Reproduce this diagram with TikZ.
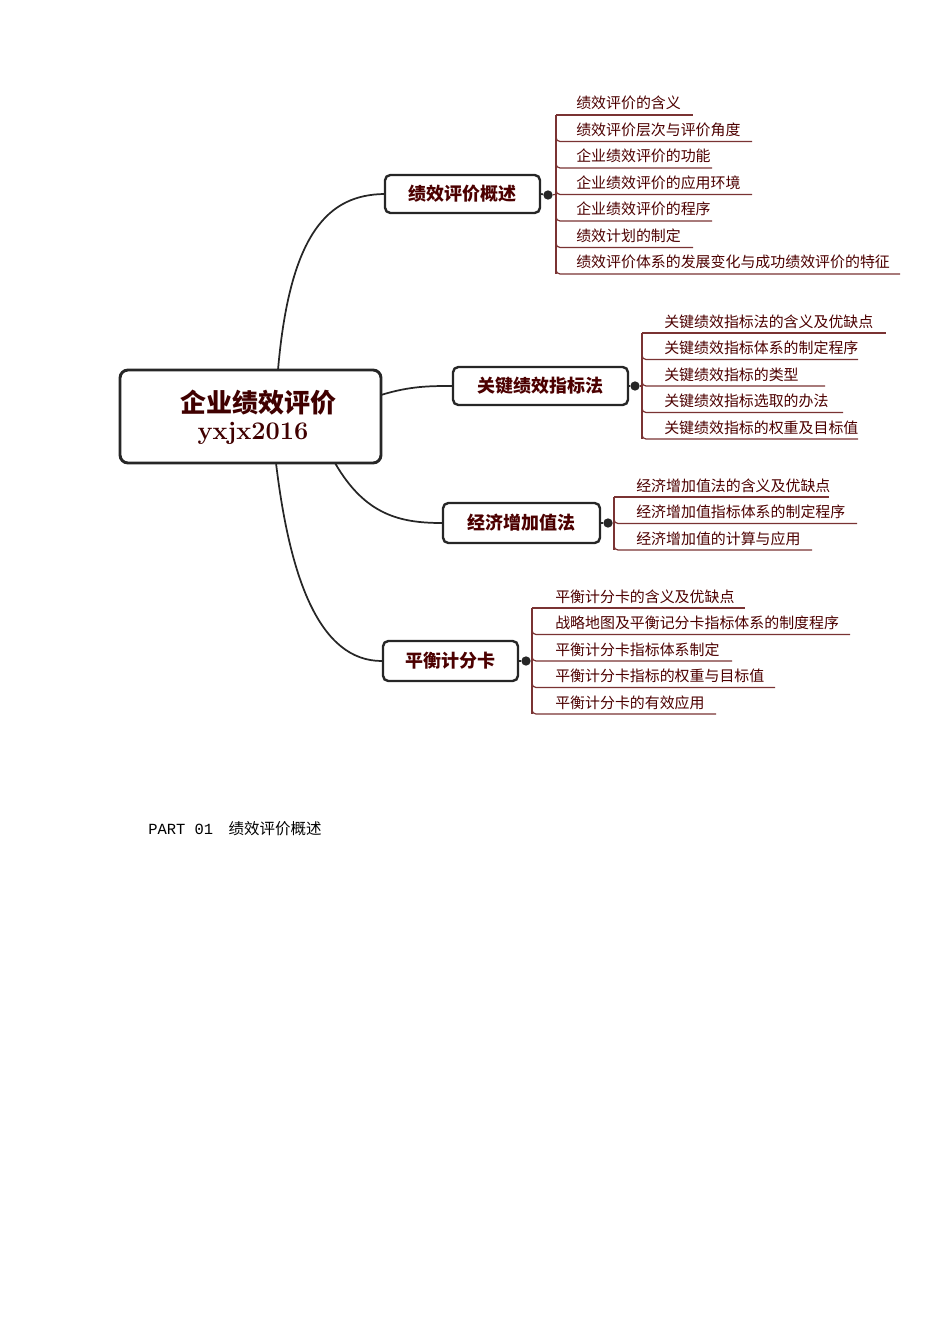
\documentclass[tikz,border=0pt]{standalone}
\usepackage{fontspec}
\newfontfamily\cjk{Noto Sans CJK SC}
\setmonofont{Liberation Mono}
\begin{document}
\begin{tikzpicture}[x=0.75pt,y=-0.75pt,
  box/.style={draw=black!85,line width=1.8pt,rounded corners=4pt,fill=white,font=\cjk\bfseries\fontsize{13.5}{15}\selectfont,text=red!30!black,anchor=center},
  item/.style={font=\cjk\fontsize{11.2}{12}\selectfont,text=red!30!black,anchor=base west,inner sep=0pt},
  conn/.style={line width=1.3pt,black!85},
  ul/.style={line width=0.9pt,draw=red!35!black!80}]
\useasboundingbox (0,0) rectangle (950,1344);
\node[draw=black!85,line width=2.2pt,rounded corners=6pt,minimum width=261*0.75pt,minimum height=93*0.75pt,fill=white] (c) at (250.5,416.5) {};
\node[font=\cjk\bfseries\fontsize{19.5}{23}\selectfont,text=red!25!black] (ct) at (258,403) {企业绩效评价};
\node[font=\rmfamily\bfseries\fontsize{19}{21}\selectfont,text=red!25!black] (cs) at (253,433) {yxjx2016};
% branch boxes
\node[box,minimum width=155*0.75pt,minimum height=38*0.75pt] (b1) at (462.5,194) {绩效评价概述};
\node[box,minimum width=175*0.75pt,minimum height=38*0.75pt] (b2) at (540.5,386) {关键绩效指标法};
\node[box,minimum width=157*0.75pt,minimum height=40*0.75pt] (b3) at (521.5,523) {经济增加值法};
\node[box,minimum width=135*0.75pt,minimum height=40*0.75pt] (b4) at (450.5,661) {平衡计分卡};
\coordinate (s1) at (278,370); \coordinate (s2) at (381,395);
\coordinate (s3) at (335,463); \coordinate (s4) at (276,463);
\draw[conn] (s1) .. controls (290,230) and (330,195) .. (b1.west);
\draw[conn] (s2) .. controls (410,386) and (430,386) .. (b2.west);
\draw[conn] (s3) .. controls (365,515) and (400,523) .. (b3.west);
\draw[conn] (s4) .. controls (290,580) and (320,661) .. (b4.west);
% dots
\foreach \n/\x/\y in {1/548/195,2/635/386,3/608/523,4/526/661}{
  \node[circle,fill=black!85,inner sep=0pt,minimum size=7pt] (d\n) at (\x,\y) {};
  \draw[conn] (b\n.east) -- (d\n);
}
% items
\newcommand\branch[6]{% name, vline x, text x, first y, last y, list
  \draw[ul] (d#1) -- (#2,{#5-(#5-#4)/2});
  \draw[ul] (#2,#4) -- (#2,#5);
  \foreach \t/\e [count=\i from 0] in {#6}{
    \pgfmathsetmacro\yy{#4+\i*26.5}
    \node[item] (#1-\i) at (#3,\yy-6) {\t};
    \ifnum\i=0 \draw[ul] (#2,\yy) -- (\e,\yy);
    \else \draw[ul,rounded corners=3pt] (#2,\yy-6) -- (#2,\yy) -- (\e,\yy);\fi
  }
}
\branch{1}{556}{576}{115}{274}{绩效评价的含义/693,绩效评价层次与评价角度/752,企业绩效评价的功能/712,企业绩效评价的应用环境/752,企业绩效评价的程序/712,绩效计划的制定/693,绩效评价体系的发展变化与成功绩效评价的特征/900}
\branch{2}{642}{664}{333}{439}{关键绩效指标法的含义及优缺点/886,关键绩效指标体系的制定程序/858,关键绩效指标的类型/825,关键绩效指标选取的办法/843,关键绩效指标的权重及目标值/858}
\branch{3}{614}{636}{497}{550}{经济增加值法的含义及优缺点/829,经济增加值指标体系的制定程序/857,经济增加值的计算与应用/812}
\branch{4}{532}{555}{608}{714}{平衡计分卡的含义及优缺点/745,战略地图及平衡记分卡指标体系的制度程序/850,平衡计分卡指标体系制定/732,平衡计分卡指标的权重与目标值/775,平衡计分卡的有效应用/716}
\node[anchor=base west,inner sep=0pt,font=\fontsize{11.6}{13}\selectfont] (part) at (148,834) {\ttfamily PART 01\quad\cjk 绩效评价概述};
\end{tikzpicture}
\end{document}
